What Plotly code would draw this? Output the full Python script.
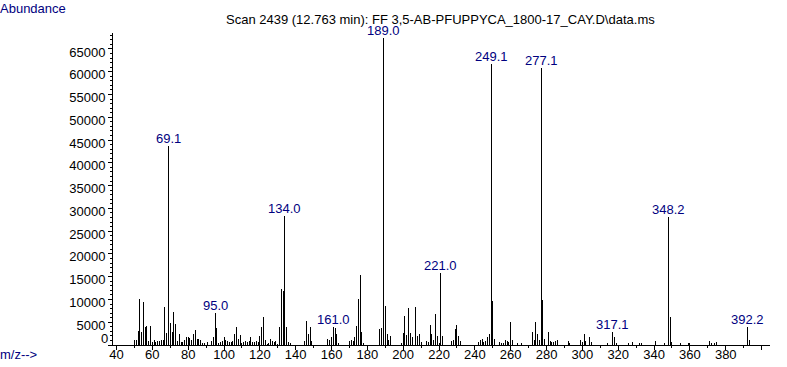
import plotly.graph_objects as go

mz = [50, 51, 52, 53, 54, 55, 56, 57, 58, 59, 60, 61, 62, 63, 64, 65, 66, 67, 68, 69,
      70, 71, 72, 73, 74, 75, 76, 77, 78, 79, 80, 81, 82, 83, 84, 85, 86, 87, 88, 89,
      91, 93, 94, 95, 96, 97, 98, 99, 100, 101, 102, 103, 104, 105, 106, 107, 108, 109,
      110, 111, 112, 113, 114, 115, 116, 117, 118, 119, 120, 121, 122, 123, 124, 125,
      126, 127, 128, 129, 130, 131, 132, 133, 134, 135, 136, 137, 145, 146, 147, 148, 149,
      158, 159, 160, 161, 162, 163, 164, 170, 171, 172, 173, 174, 175, 176, 177, 178,
      187, 188, 189, 190, 191, 192, 193, 199, 200, 201, 202, 203, 204, 205, 207, 208,
      209, 210, 213, 214, 215, 216, 217, 218, 219, 220, 221, 222, 227, 228, 229, 230,
      231, 232, 242, 243, 244, 245, 246, 247, 248, 249, 250, 251, 254, 255, 256, 257,
      258, 259, 260, 261, 264, 266, 272, 273, 274, 275, 276, 277, 278, 279, 281, 282,
      283, 284, 285, 286, 292, 293, 299, 300, 301, 302, 304, 305, 314, 317, 318, 319,
      326, 328, 332, 333, 341, 346, 348, 349, 350, 355, 359, 360, 371, 372, 374, 375,
      392, 393]
abundance = [1000, 1200, 3100, 10200, 2900, 9400, 3900, 4200, 900, 4200, 600, 1100, 700, 900, 900, 1100, 1100, 8300, 2700, 43800,
             4900, 2800, 7300, 4600, 800, 2400, 700, 600, 1200, 1800, 1700, 1500, 1100, 2400, 3300, 1300, 1300, 1100, 450, 450,
             700, 800, 1700, 7100, 3800, 500, 750, 900, 1700, 1200, 800, 600, 600, 900, 2400, 4000, 1300, 2200,
             500, 600, 900, 600, 900, 1700, 600, 600, 900, 700, 2000, 3900, 6200, 1200, 300, 500,
             1400, 900, 700, 800, 300, 3900, 12300, 11900, 28300, 3900, 600, 500, 900, 5200, 2500, 4000, 950,
             1400, 1000, 1800, 4000, 3800, 2500, 500, 800, 1100, 950, 1800, 4200, 10000, 15400, 2800, 500,
             3600, 3700, 67300, 8600, 2400, 1000, 2000, 500, 2700, 6400, 2300, 8200, 2600, 1800, 8400, 1900,
             2500, 550, 880, 730, 4400, 2500, 1000, 6850, 2000, 510, 15800, 2050, 900, 1100, 3600, 4300,
             1900, 900, 730, 1100, 1400, 660, 950, 1840, 2420, 61700, 9700, 1400, 660, 440, 510, 1100,
             950, 730, 5140, 1100, 440, 440, 2940, 1100, 5140, 2500, 1170, 60900, 9950, 1400, 2940, 800,
             730, 660, 800, 1030, 880, 510, 1100, 590, 2500, 800, 1800, 730, 350, 2940, 1800, 440,
             440, 660, 370, 370, 880, 440, 28000, 6170, 660, 440, 440, 440, 950, 510, 440, 660,
             3900, 1100]

label_mz = [69, 95, 134, 161, 189, 221, 249, 277, 317, 348, 392]
label_text = ["69.1", "95.0", "134.0", "161.0", "189.0", "221.0", "249.1", "277.1", "317.1", "348.2", "392.2"]

y_ticks = list(range(0, 65001, 5000))
y_tick_text = [""] + [str(v) for v in y_ticks[1:]]
x_ticks = list(range(40, 401, 20))
x_tick_text = [str(v) for v in range(40, 381, 20)] + [""]

title_text = "Scan 2439 (12.763 min): FF 3,5-AB-PFUPPYCA_1800-17_CAY.D\\data.ms"

FONT = "Liberation Sans, Arial, sans-serif"
NAVY = "#000080"

W, H = 787, 367
ML, MR, MT, MB = 113, 17, 33, 22
PW, PH = W - ML - MR, H - MT - MB

xs, ys = [], []
for m, a in zip(mz, abundance):
    xs += [m, m, None]
    ys += [0, a, None]

fig = go.Figure(go.Scatter(x=xs, y=ys, mode="lines",
                           line=dict(color="black", width=1),
                           hoverinfo="skip", showlegend=False))

lookup = dict(zip(mz, abundance))
annotations = []
for m, t in zip(label_mz, label_text):
    annotations.append(dict(x=m, y=lookup[m], xref="x", yref="y", text=t,
                            showarrow=False, yanchor="bottom", xanchor="center",
                            yshift=-2, font=dict(family=FONT, size=13, color=NAVY)))


def px(xp, yp):
    return (xp - ML) / PW, (H - MB - yp) / PH


tx, ty = px(440, 20)
annotations.append(dict(x=tx, y=ty, xref="paper", yref="paper", text=title_text,
                        showarrow=False, xanchor="center", yanchor="middle",
                        font=dict(family=FONT, size=13, color="black")))
ax, ay = px(-2, 8)
annotations.append(dict(x=ax, y=ay, xref="paper", yref="paper", text="Abundance",
                        showarrow=False, xanchor="left", yanchor="middle",
                        font=dict(family=FONT, size=13, color=NAVY)))
mx, my = px(-2, 355)
annotations.append(dict(x=mx, y=my, xref="paper", yref="paper", text="m/z-->",
                        showarrow=False, xanchor="left", yanchor="middle",
                        font=dict(family=FONT, size=13, color=NAVY)))
zx, zy = px(110, 338)
annotations.append(dict(x=zx, y=zy, xref="paper", yref="paper", text="0",
                        showarrow=False, xanchor="right", yanchor="middle",
                        font=dict(family=FONT, size=13, color="black")))

fig.update_layout(
    width=W, height=H,
    margin=dict(l=ML, r=MR, t=MT, b=MB, pad=0),
    paper_bgcolor="white", plot_bgcolor="white",
    showlegend=False,
    annotations=annotations,
    xaxis=dict(range=[38.05, 404.7], showline=True, linecolor="black", linewidth=1,
               automargin=False,
               ticks="outside", ticklen=4, tickcolor="black", tickvals=x_ticks,
               ticktext=x_tick_text, showgrid=False, zeroline=False,
               ticklabelstandoff=-7,
               minor=dict(ticks="outside", ticklen=2, dtick=10, tickcolor="black"),
               tickfont=dict(family=FONT, size=13, color="black")),
    yaxis=dict(range=[0, 68500], showline=True, linecolor="black", linewidth=1,
               automargin=False,
               ticks="outside", ticklen=4, tickcolor="black", tickvals=y_ticks,
               ticktext=y_tick_text, showgrid=False, zeroline=False,
               ticklabelshift=3,
               minor=dict(ticks="outside", ticklen=2, dtick=1000, tickcolor="black"),
               tickfont=dict(family=FONT, size=13, color="black")),
)

fig.write_html("out.html", config={"displayModeBar": False},
               post_script=("document.body.style.margin='0px';"
                            "document.body.style.overflow='hidden';"
                            "document.querySelectorAll('.scatterlayer path').forEach("
                            "function(p){p.style.shapeRendering='crispEdges';});"))
